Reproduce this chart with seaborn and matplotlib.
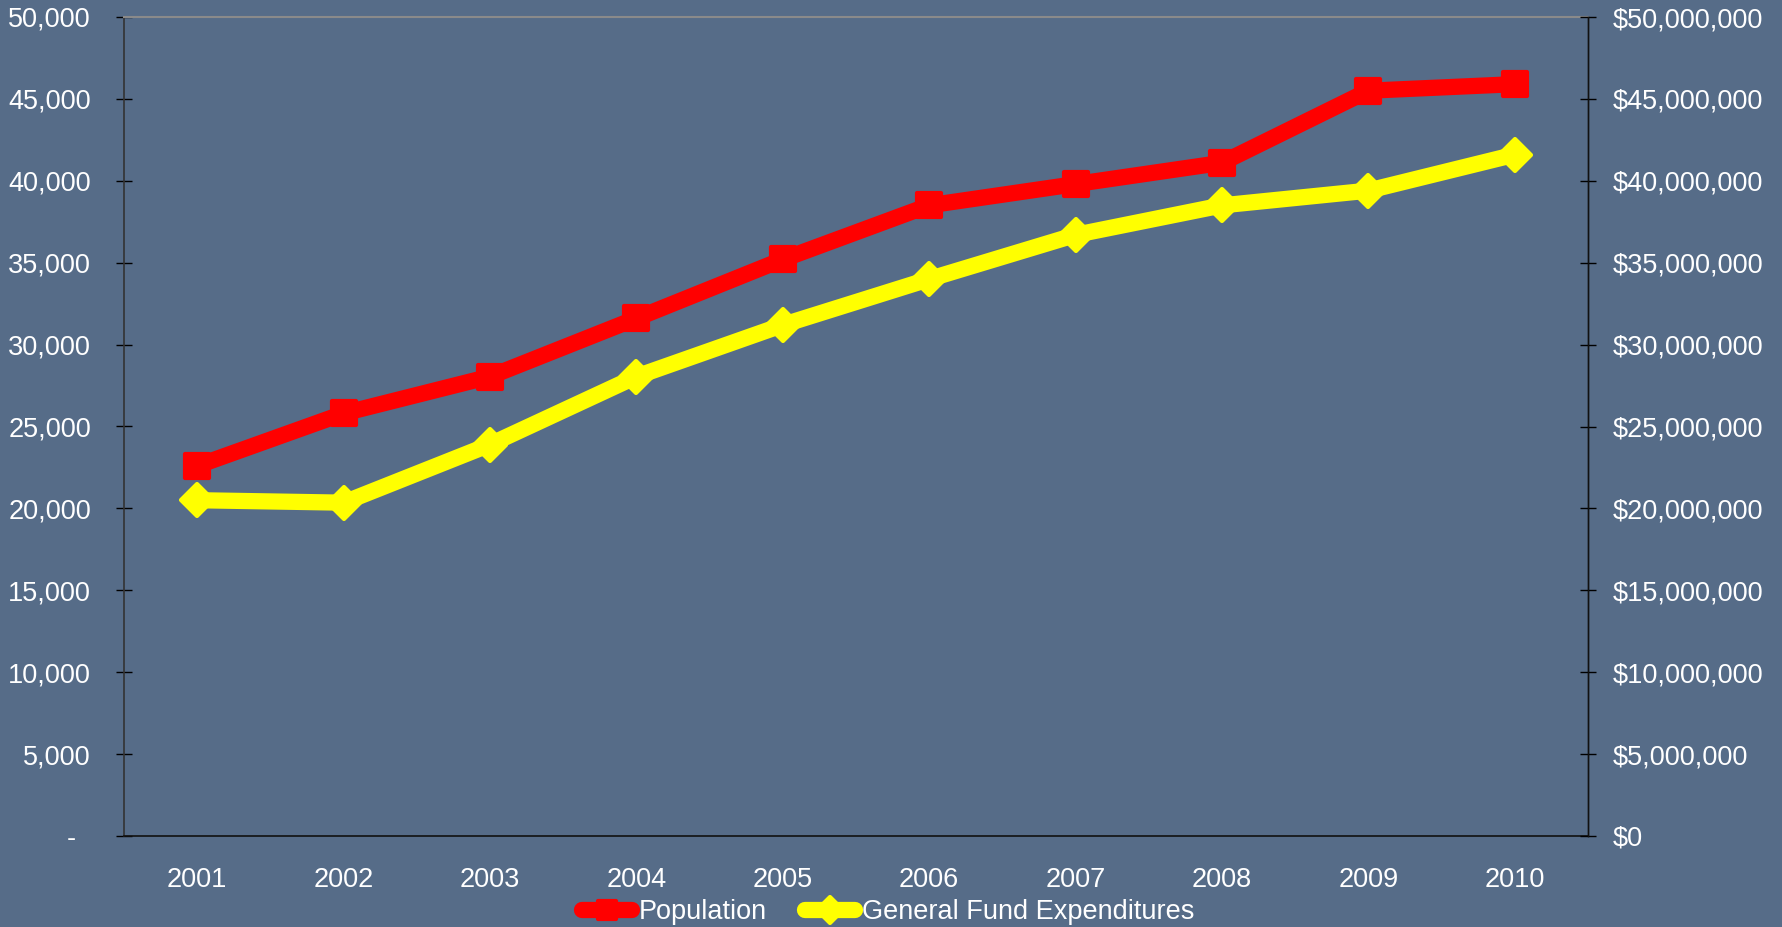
import matplotlib
matplotlib.use("Agg")
import matplotlib.pyplot as plt
import matplotlib.ticker as mticker
from matplotlib.lines import Line2D
from matplotlib.markers import MarkerStyle
import seaborn as sns
import pandas as pd

years = ["2001", "2002", "2003", "2004", "2005", "2006", "2007", "2008", "2009", "2010"]
population = [22600, 25800, 28050, 31600, 35200, 38500, 39800, 41100, 45500, 45900]
expenditures = [20500000, 20350000, 23900000, 28050000, 31200000, 34000000, 36700000, 38500000, 39400000, 41600000]

BG = "#566C88"
sns.set_style("white")
plt.rcParams["font.family"] = ["Liberation Sans", "DejaVu Sans"]

fig = plt.figure(figsize=(17.83, 9.27), dpi=100, facecolor=BG)
ax = fig.add_axes([124/1783, 1-836/927, 1464/1783, 819/927])
ax.set_facecolor(BG)
ax2 = ax.twinx()

xpos = [i + 0.5 for i in range(len(years))]
df = pd.DataFrame({"x": xpos, "pop": population, "exp": expenditures})

sq = MarkerStyle("s", joinstyle="round")
dm = MarkerStyle("D", joinstyle="round")

LW = 11.7
sns.lineplot(data=df, x="x", y="pop", ax=ax, color="#FF0000", linewidth=LW,
             marker=sq, markersize=17, markeredgewidth=3, markeredgecolor="#FF0000",
             solid_joinstyle="round", zorder=3)
sns.lineplot(data=df, x="x", y="exp", ax=ax2, color="#FFFF00", linewidth=LW,
             marker=dm, markersize=16, markeredgewidth=3, markeredgecolor="#FFFF00",
             solid_joinstyle="round", zorder=3)

for a in (ax, ax2):
    a.set_xlim(0, 10)
    a.set_xlabel("")
    a.set_ylabel("")
    a.patch.set_alpha(0)

ax.set_facecolor(BG)
ax.patch.set_alpha(1)
ax.set_zorder(0)
ax2.set_zorder(1)

ax.set_ylim(0, 50000)
ax2.set_ylim(0, 50000000)
ax.yaxis.set_major_locator(mticker.MultipleLocator(5000))
ax2.yaxis.set_major_locator(mticker.MultipleLocator(5000000))
ax.yaxis.set_major_formatter(mticker.FuncFormatter(lambda v, p: "-  " if v == 0 else f"{v:,.0f}"))
ax2.yaxis.set_major_formatter(mticker.FuncFormatter(lambda v, p: f"${v:,.0f}"))

ax.set_xticks(range(0, 11))
ax.set_xticklabels([])
ax.set_xticks(xpos, minor=True)
ax.set_xticklabels(years, minor=True)
ax.tick_params(axis="x", which="minor", length=0, pad=22)
ax.tick_params(axis="x", which="major", direction="inout", length=11.5, width=1, color="black")

fs = 19.5
ax.tick_params(axis="y", direction="inout", length=11.5, width=1, color="black",
               labelsize=fs, labelcolor="white", pad=18)
ax2.tick_params(axis="y", direction="inout", length=11.5, width=1, color="black",
                labelsize=fs, labelcolor="white", pad=12)
ax.tick_params(axis="x", which="minor", labelsize=fs, labelcolor="white")

for a in (ax, ax2):
    a.spines["top"].set_color("#8A8A8A")
    a.spines["top"].set_linewidth(1.5)
    a.spines["left"].set_color("#333333")
    a.spines["left"].set_linewidth(1.2)
    a.spines["right"].set_color("#111111")
    a.spines["right"].set_linewidth(1.0)
    a.spines["bottom"].set_color("#111111")
    a.spines["bottom"].set_linewidth(1.2)
ax2.spines["left"].set_visible(False)
ax2.spines["bottom"].set_visible(False)
ax2.spines["top"].set_visible(False)

h1 = Line2D([], [], color="#FF0000", linewidth=LW, marker=sq, markersize=13,
            markeredgewidth=3, markeredgecolor="#FF0000", solid_capstyle="round")
h2 = Line2D([], [], color="#FFFF00", linewidth=LW, marker=dm, markersize=13,
            markeredgewidth=3, markeredgecolor="#FFFF00", solid_capstyle="round")
leg = fig.legend([h1, h2], ["Population", "General Fund Expenditures"],
                 loc="center", bbox_to_anchor=(888/1783, 1-912/927), ncol=2,
                 frameon=False, fontsize=fs, handlelength=1.85, handletextpad=0.25,
                 columnspacing=1.4, borderaxespad=0, borderpad=0)
for t in leg.get_texts():
    t.set_color("white")

fig.savefig("out.png", dpi=100, facecolor=BG)
